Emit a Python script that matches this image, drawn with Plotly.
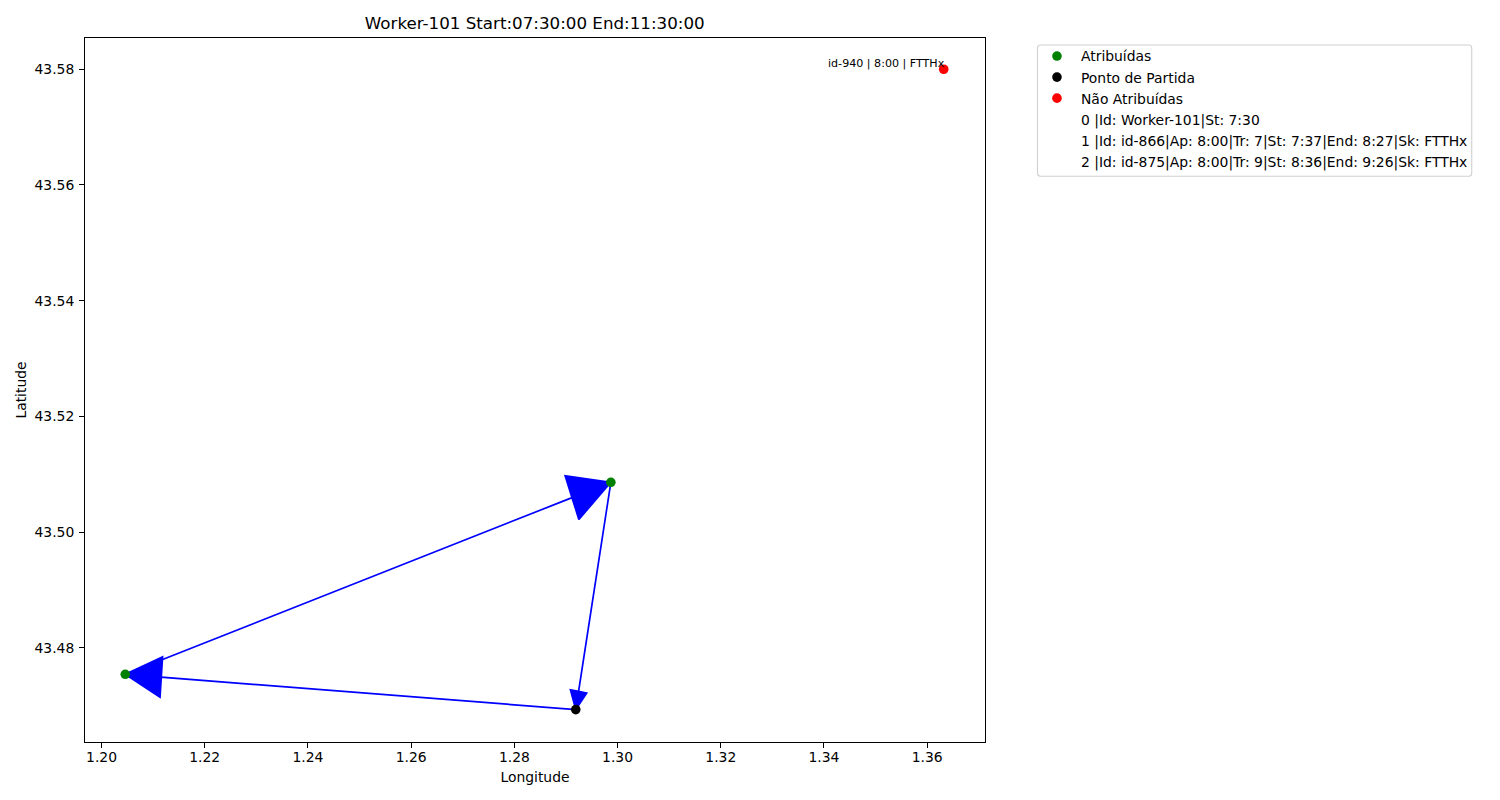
import math
import plotly.graph_objects as go

# Route stops, in travel order (start, then assigned tasks)
route_lon = [1.2919, 1.2046, 1.2987]
route_lat = [43.4693, 43.4754, 43.5086]
unassigned_lon = [1.3632]
unassigned_lat = [43.5800]
unassigned_label = ["id-940 | 8:00 | FTTHx"]
info_rows = [
    "0 |Id: Worker-101|St: 7:30",
    "1 |Id: id-866|Ap: 8:00|Tr: 7|St: 7:37|End: 8:27|Sk: FTTHx",
    "2 |Id: id-875|Ap: 8:00|Tr: 9|St: 8:36|End: 9:26|Sk: FTTHx",
]
x_ticks = [1.20, 1.22, 1.24, 1.26, 1.28, 1.30, 1.32, 1.34, 1.36]
y_ticks = [43.48, 43.50, 43.52, 43.54, 43.56, 43.58]
x_range = [1.1968, 1.3712]
y_range = [43.4637, 43.5854]
HEAD_RATIO = 0.08  # arrow head size as a share of arrow length, in data units

FONT = "DejaVu Sans"
fig = go.Figure()

n = len(route_lon)
for i in range(n):
    x0, y0 = route_lon[i], route_lat[i]
    x1, y1 = route_lon[(i + 1) % n], route_lat[(i + 1) % n]
    dx, dy = x1 - x0, y1 - y0
    length = math.hypot(dx, dy)
    ux, uy = dx / length, dy / length
    size = HEAD_RATIO * length
    bx, by = x1 - ux * size, y1 - uy * size
    half = size / 2
    xs = [x0, bx, bx - uy * half, x1, bx + uy * half, bx, x0]
    ys = [y0, by, by + ux * half, y1, by - ux * half, by, y0]
    fig.add_trace(go.Scatter(
        x=xs, y=ys, mode="lines", fill="toself", fillcolor="#0000ff",
        line=dict(color="#0000ff", width=1.7), showlegend=False, hoverinfo="skip",
    ))

marker_size = 9.6


def add_points(name, x, y, color):
    fig.add_trace(go.Scatter(
        x=x, y=y, mode="markers", name=name,
        marker=dict(color=color, size=marker_size, line=dict(width=0)),
        hoverinfo="skip",
    ))


add_points("Atribuídas", route_lon[1:], route_lat[1:], "#008000")
add_points("Ponto de Partida", route_lon[:1], route_lat[:1], "#000000")
add_points("Não Atribuídas", unassigned_lon, unassigned_lat, "#ff0000")
for row, lon, lat in zip(info_rows, route_lon, route_lat):
    add_points(row, [lon], [lat], "rgba(0,0,0,0)")

for lon, lat, label in zip(unassigned_lon, unassigned_lat, unassigned_label):
    fig.add_annotation(
        x=lon, y=lat, text=label, showarrow=False, xanchor="right", yanchor="bottom",
        font=dict(family=FONT, size=11.1, color="#000000"), borderpad=0, borderwidth=0,
        xshift=1, yshift=-1,
    )

L, R, T, B = 84.5, 985.0, 37.5, 742.5
W, H = 1500, 800
axis_common = dict(
    showgrid=False, zeroline=False, showline=True, mirror=True,
    linecolor="#000000", linewidth=1.1, ticks="outside", ticklen=4.9, tickwidth=1.1,
    tickcolor="#000000", tickfont=dict(family=FONT, size=13.9, color="#000000"),
    tickformat=".2f", automargin=False,
)

# legend frame (layout furniture, in plot-area paper fractions)
fx0, fx1, fy_top, fy_bot, rad = 1037.5, 1472.0, 44.5, 176.0, 3.0


def px(v):
    return (v - L) / (R - L)


def py(v):
    return (B - v) / (B - T)


frame = (
    f"M {px(fx0 + rad)} {py(fy_top)} L {px(fx1 - rad)} {py(fy_top)} "
    f"Q {px(fx1)} {py(fy_top)} {px(fx1)} {py(fy_top + rad)} "
    f"L {px(fx1)} {py(fy_bot - rad)} Q {px(fx1)} {py(fy_bot)} {px(fx1 - rad)} {py(fy_bot)} "
    f"L {px(fx0 + rad)} {py(fy_bot)} Q {px(fx0)} {py(fy_bot)} {px(fx0)} {py(fy_bot - rad)} "
    f"L {px(fx0)} {py(fy_top + rad)} Q {px(fx0)} {py(fy_top)} {px(fx0 + rad)} {py(fy_top)} Z"
)

fig.update_layout(
    width=W, height=H, autosize=False,
    paper_bgcolor="#ffffff", plot_bgcolor="#ffffff",
    margin=dict(l=L, r=W - R, t=T, b=H - B, pad=0),
    font=dict(family=FONT, size=13.9, color="#000000"),
    title=dict(
        text="Worker-101 Start:07:30:00 End:11:30:00",
        x=(L + R) / 2 / W, xanchor="center", y=1 - 23.5 / H, yanchor="middle",
        font=dict(family=FONT, size=16.7, color="#000000"),
    ),
    xaxis=dict(axis_common, range=x_range, tickvals=x_ticks, ticklabelstandoff=-3,
               title=dict(text="Longitude", standoff=8, font=dict(family=FONT, size=13.9))),
    yaxis=dict(axis_common, range=y_range, tickvals=y_ticks, ticklabelstandoff=2,
               title=dict(text="Latitude", standoff=4, font=dict(family=FONT, size=13.9))),
    legend=dict(
        x=px(1033.0), xanchor="left", y=py(40.0), yanchor="top",
        traceorder="normal", itemwidth=38,
        bgcolor="rgba(0,0,0,0)", borderwidth=0,
        font=dict(family=FONT, size=13.9, color="#000000"),
    ),
    shapes=[dict(type="path", xref="paper", yref="paper", path=frame, layer="below",
                 line=dict(color="#d0d0d0", width=1.1), fillcolor="#ffffff")],
    hovermode=False,
)
fig.write_html("out.html", config={"displayModeBar": False},
               post_script="document.body.style.margin='0';")
